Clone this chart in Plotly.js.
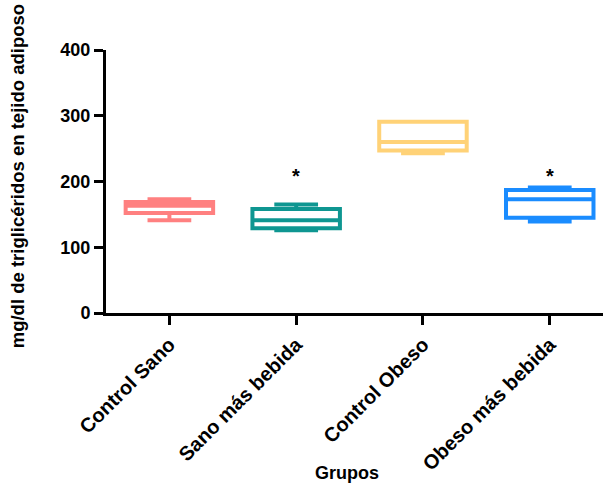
<!DOCTYPE html>
<html>
<head>
<meta charset="utf-8">
<script src="https://cdn.plot.ly/plotly-3.0.1.min.js"></script>
<style>
  html, body { margin: 0; padding: 0; background: #fff; }
  #chart { width: 603px; height: 485px; }
</style>
</head>
<body>
<div id="chart"></div>
<script>
// Grupos experimentales
const categories = ['Control Sano', 'Sano más bebida', 'Control Obeso', 'Obeso más bebida'];

// Resumen de cada caja (mg/dl)
const minimo  = [141, 126, 243, 139];
const q1      = [152, 129, 247, 145];
const mediana = [163, 141, 260, 173];
const q3      = [169, 158, 291, 187];
const maximo  = [173, 165, 291, 191];

const colores = ['#FF8080', '#0E9691', '#FFD277', '#1A8CFF'];

// Grupos marcados con asterisco y altura del asterisco
const significativos = ['Sano más bebida', 'Obeso más bebida'];
const alturaAsterisco = [215, 215];

const yTicks = [0, 100, 200, 300, 400];

const tituloX = 'Grupos';
const tituloY = 'mg/dl de triglicéridos en tejido adiposo';

const font = { family: 'Liberation Sans, Arial, sans-serif', color: '#000', weight: 'bold' };
const conTam = (s) => Object.assign({}, font, { size: s });

const traces = categories.map((cat, i) => ({
  type: 'box',
  x: [cat],
  q1: [q1[i]],
  median: [mediana[i]],
  q3: [q3[i]],
  lowerfence: [minimo[i]],
  upperfence: [maximo[i]],
  width: 0.69,
  whiskerwidth: 0.5,
  fillcolor: 'rgba(255,255,255,0)',
  line: { color: colores[i], width: 4 },
  boxpoints: false,
  showlegend: false,
  hoverinfo: 'skip'
}));

const annotations = significativos.map((cat, i) => ({
  x: cat, y: alturaAsterisco[i], xref: 'x', yref: 'y',
  text: '*', showarrow: false,
  font: conTam(20),
  yanchor: 'middle', yshift: -4
}));

// Títulos de los ejes
annotations.push({
  text: tituloX, xref: 'paper', yref: 'paper',
  x: 0.485, y: -0.61, xanchor: 'center', yanchor: 'middle',
  showarrow: false, font: conTam(18)
});
annotations.push({
  text: tituloY, xref: 'paper', yref: 'paper',
  x: -0.179, y: 0.52, xanchor: 'center', yanchor: 'middle',
  textangle: -90, showarrow: false, font: conTam(18.5)
});

const layout = {
  width: 603, height: 485,
  margin: { l: 106, r: 0, t: 50, b: 172 },
  paper_bgcolor: '#fff', plot_bgcolor: '#fff',
  font: font,
  xaxis: {
    type: 'category',
    categoryorder: 'array', categoryarray: categories,
    range: [-0.5, 3.42],
    showline: true, linecolor: '#000', linewidth: 3,
    ticks: 'outside', ticklen: 9, tickwidth: 3, tickcolor: '#000',
    tickangle: -45,
    tickfont: conTam(20),
    showgrid: false, zeroline: false
  },
  yaxis: {
    range: [0, 400],
    tickvals: yTicks,
    showline: true, linecolor: '#000', linewidth: 3,
    ticks: 'outside', ticklen: 9, tickwidth: 3, tickcolor: '#000',
    tickfont: conTam(18),
    showgrid: false, zeroline: false
  },
  annotations: annotations
};

Plotly.newPlot('chart', traces, layout, { displayModeBar: false, staticPlot: true });
</script>
</body>
</html>
